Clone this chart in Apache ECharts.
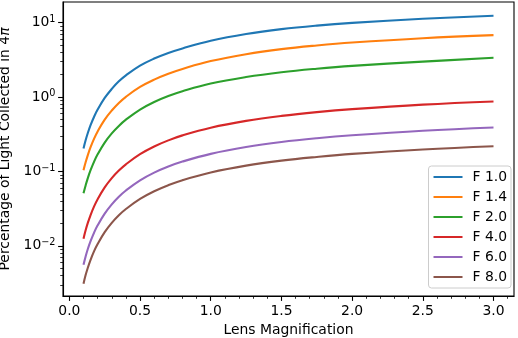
<!DOCTYPE html>
<html>
<head>
<meta charset="utf-8">
<script src="https://cdn.jsdelivr.net/npm/echarts@6/dist/echarts.min.js"></script>
<style>html,body{margin:0;padding:0;background:#fff}#c{width:518px;height:338px}</style>
</head>
<body>
<div id="c"></div>
<script>
// Lens magnification (x)
var magnification = [0.1, 0.115, 0.13, 0.15, 0.175, 0.2, 0.25, 0.3, 0.35, 0.4, 0.5, 0.6, 0.7, 0.8, 1.0, 1.25, 1.5, 1.75, 2.0, 2.5, 3.0];
// Percentage of light collected in 4π
var f10 = [0.204, 0.263, 0.327, 0.42, 0.545, 0.68, 0.975, 1.29, 1.63, 1.96, 2.65, 3.3, 3.93, 4.52, 5.72, 7.05, 8.2, 9.15, 9.95, 11.3, 12.4];
var f14 = [0.104, 0.133, 0.165, 0.212, 0.277, 0.346, 0.498, 0.66, 0.835, 1.01, 1.37, 1.72, 2.06, 2.39, 3.05, 3.78, 4.42, 4.95, 5.42, 6.2, 6.82];
var f20 = [0.051, 0.065, 0.081, 0.104, 0.136, 0.17, 0.245, 0.326, 0.41, 0.497, 0.68, 0.86, 1.035, 1.2, 1.52, 1.86, 2.16, 2.41, 2.63, 3.0, 3.38];
var f40 = [0.0125, 0.0162, 0.0202, 0.026, 0.034, 0.0425, 0.0612, 0.0815, 0.103, 0.125, 0.171, 0.217, 0.262, 0.306, 0.388, 0.479, 0.559, 0.629, 0.69, 0.793, 0.875];
var f60 = [0.00556, 0.0072, 0.009, 0.01155, 0.0151, 0.0189, 0.0272, 0.0362, 0.0458, 0.0556, 0.076, 0.0965, 0.1165, 0.136, 0.1725, 0.213, 0.249, 0.28, 0.307, 0.353, 0.39];
var f80 = [0.0031, 0.00405, 0.00505, 0.0065, 0.0085, 0.0106, 0.0153, 0.0204, 0.0258, 0.0313, 0.0428, 0.0543, 0.0655, 0.0765, 0.097, 0.12, 0.14, 0.157, 0.1725, 0.198, 0.219];
var seriesNames = ['F 1.0', 'F 1.4', 'F 2.0', 'F 4.0', 'F 6.0', 'F 8.0'];
var seriesValues = [f10, f14, f20, f40, f60, f80];
var colors = ['#1f77b4', '#ff7f0e', '#2ca02c', '#d62728', '#9467bd', '#8c564b'];
// Tick values
var xMajorTicks = [0, 0.5, 1.0, 1.5, 2.0, 2.5, 3.0];
var xMinorTicks = [0.1,0.2,0.3,0.4,0.6,0.7,0.8,0.9,1.1,1.2,1.3,1.4,1.6,1.7,1.8,1.9,2.1,2.2,2.3,2.4,2.6,2.7,2.8,2.9,3.1];
var yMajorTicks = [0.01, 0.1, 1, 10];
var yMajorExp = ['\u22122', '\u22121', '0', '1'];
var yMinorTicks = [0.003,0.004,0.005,0.006,0.007,0.008,0.009,
  0.02,0.03,0.04,0.05,0.06,0.07,0.08,0.09,
  0.2,0.3,0.4,0.5,0.6,0.7,0.8,0.9,
  2,3,4,5,6,7,8,9];

var FONT = 'DejaVu Sans';
var FS = 13.9;
var XMIN = -0.045, XMAX = 3.145, YMIN = 0.00212, YMAX = 19;

var chart = echarts.init(document.getElementById('c'), null, {renderer: 'canvas'});
var series = seriesNames.map(function (n, i) {
  return {
    name: n, type: 'line', xAxisIndex: 0, yAxisIndex: 0,
    showSymbol: false, smooth: 0.4,
    lineStyle: {color: colors[i], width: 2.1},
    itemStyle: {color: colors[i]},
    data: magnification.map(function (x, k) { return [x, seriesValues[i][k]]; })
  };
});
chart.setOption({
  animation: false,
  textStyle: {fontFamily: FONT},
  grid: {left: 63, right: 4, top: 2, bottom: 42, containLabel: false, outerBoundsMode: 'none',
    show: true, borderColor: '#000', borderWidth: 1.1, backgroundColor: 'transparent'},
  legend: {
    data: seriesNames, orient: 'vertical', right: 7, top: 166,
    icon: 'rect', itemWidth: 29, itemHeight: 2, itemGap: 4,
    backgroundColor: 'rgba(255,255,255,0.8)', borderColor: '#cccccc', borderWidth: 1, borderRadius: 3,
    padding: [3, 4, 3, 5],
    textStyle: {fontFamily: FONT, fontSize: FS, color: '#000', lineHeight: 16, padding: [0, 0, 0, 5]}
  },
  xAxis: [{
    type: 'value', min: XMIN, max: XMAX, position: 'bottom',
    name: 'Lens Magnification', nameLocation: 'middle', nameGap: 26,
    nameTextStyle: {fontFamily: FONT, fontSize: FS, color: '#000'},
    axisLine: {show: true, onZero: false, lineStyle: {color: '#000', width: 1.1}},
    axisTick: {show: true, length: 4.9, lineStyle: {color: '#000', width: 1.1}, customValues: xMajorTicks},
    axisLabel: {show: true, margin: 8.5, fontSize: FS, color: '#000', fontFamily: FONT, customValues: xMajorTicks,
      formatter: function (v) { return v.toFixed(1); }},
    splitLine: {show: false}
  }, {
    type: 'value', min: XMIN, max: XMAX, position: 'bottom',
    axisLine: {show: false, onZero: false},
    axisTick: {show: true, length: 2.8, lineStyle: {color: '#000', width: 0.8}, customValues: xMinorTicks},
    axisLabel: {show: false},
    splitLine: {show: false}
  }],
  yAxis: [{
    type: 'log', logBase: 10, min: YMIN, max: YMAX, position: 'left',
    name: 'Percentage of Light Collected in 4{i|\u03c0}', nameLocation: 'middle', nameGap: 44.5, nameRotate: 90,
    nameTextStyle: {fontFamily: FONT, fontSize: FS, color: '#000',
      rich: {i: {fontFamily: FONT, fontSize: FS, fontStyle: 'italic', color: '#000'}}},
    axisLine: {show: true, onZero: false, lineStyle: {color: '#000', width: 1.1}},
    axisTick: {show: true, length: 4.9, lineStyle: {color: '#000', width: 1.1}, customValues: yMajorTicks},
    axisLabel: {show: true, margin: 7.5, fontSize: FS, color: '#000', fontFamily: FONT, customValues: yMajorTicks,
      formatter: function (v) {
        var idx = yMajorTicks.indexOf(v);
        var e = Math.round(Math.log(v) / Math.LN10);
        var s = idx >= 0 ? yMajorExp[idx] : (e < 0 ? '\u2212' + (-e) : '' + e);
        return '10{s|' + s + '}';
      },
      rich: {s: {fontFamily: FONT, fontSize: 9.7, color: '#000', verticalAlign: 'top', padding: [0, 0, 7, 0]}}
    },
    splitLine: {show: false}
  }, {
    type: 'log', logBase: 10, min: YMIN, max: YMAX, position: 'left',
    axisLine: {show: false, onZero: false},
    axisTick: {show: true, length: 2.8, lineStyle: {color: '#000', width: 0.8}, customValues: yMinorTicks},
    axisLabel: {show: false},
    splitLine: {show: false}
  }],
  series: series
});
</script>
</body>
</html>
